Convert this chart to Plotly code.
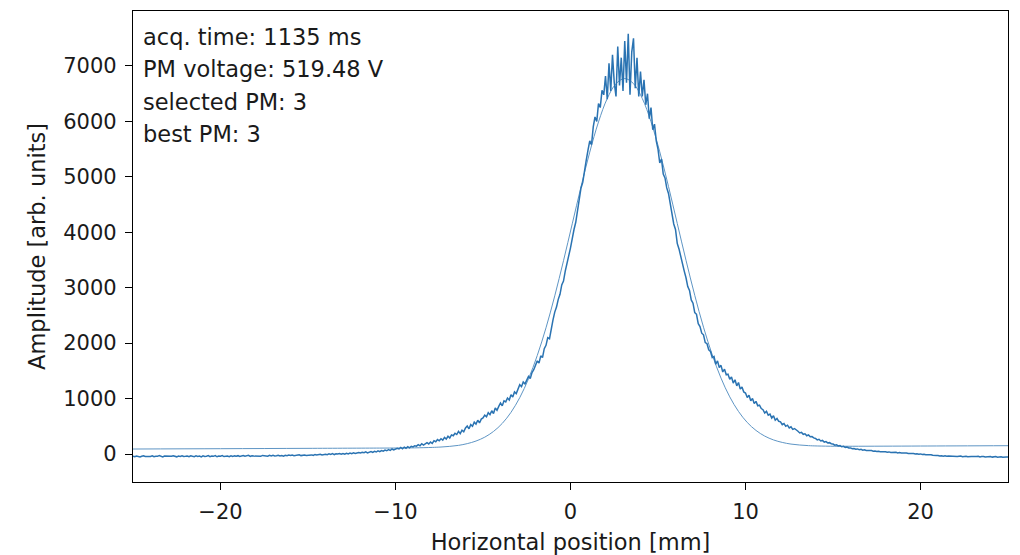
import numpy as np
import plotly.graph_objects as go

# profile samples, 0.1 mm spacing from -25 to 25 mm (one row = 1 mm)
x_start = -25.0
x_step = 0.1
amplitude = [
    -38, -49, -35, -44, -52, -40, -31, -45, -47, -36,
    -44, -33, -50, -39, -42, -29, -46, -53, -37, -40,
    -35, -48, -41, -30, -45, -51, -38, -43, -32, -46,
    -42, -36, -49, -31, -40, -47, -34, -44, -38, -52,
    -33, -45, -39, -28, -47, -36, -42, -30, -50, -37,
    -41, -29, -46, -35, -38, -48, -31, -43, -34, -40,
    -30, -44, -36, -27, -41, -38, -25, -45, -33, -37,
    -38, -28, -36, -42, -26, -34, -31, -40, -24, -35,
    -25, -36, -31, -22, -34, -27, -38, -24, -30, -20,
    -28, -18, -30, -21, -26, -14, -29, -23, -17, -27,
    -20, -11, -16, -24, -8, -19, -12, -6, -17, -9,
    -3, -12, 2, -7, 6, -10, 4, -1, 9, -4,
    10, -2, 14, 3, 18, 6, 22, 9, 15, 26,
    18, 30, 24, 38, 20, 35, 44, 29, 48, 36,
    56, 42, 61, 50, 70, 58, 78, 64, 90, 72,
    80, 102, 91, 118, 95, 125, 104, 132, 110, 140,
    128, 150, 142, 170, 148, 185, 160, 178, 205, 182,
    215, 190, 240, 222, 260, 238, 275, 250, 300, 268,
    320, 290, 345, 330, 375, 352, 410, 368, 430, 400,
    470, 505, 455, 530, 500, 575, 540, 610, 560, 630,
    650, 700, 672, 745, 710, 780, 730, 830, 790, 860,
    920, 870, 960, 940, 1010, 975, 1070, 1030, 1120, 1090,
    1180, 1250, 1215, 1300, 1265, 1350, 1400, 1360, 1470, 1520,
    1590, 1680, 1640, 1770, 1740, 1900, 1960, 2100, 2080, 2280,
    2420, 2560, 2650, 2790, 2880, 3050, 3120, 3300, 3420, 3580,
    3720, 3900, 4050, 4180, 4420, 4560, 4800, 4900, 5150, 5300,
    5480, 5650, 5580, 5900, 6080, 6000, 6320, 6250, 6560, 6480,
    6820, 6400, 7050, 6550, 7200, 6700, 6450, 7350, 6650, 7150,
    6550, 7450, 6700, 7580, 6480, 7250, 7500, 6600, 7150, 6450,
    6900, 6450, 6750, 6300, 6500, 6050, 6250, 5850, 5950, 5650,
    5500, 5250, 5320, 5050, 4980, 4800, 4700, 4500, 4380, 4150,
    4050, 3800, 3700, 3550, 3420, 3300, 3180, 3020, 2950, 2780,
    2720, 2550, 2520, 2350, 2300, 2180, 2150, 2010, 1990, 1880,
    1850, 1740, 1760, 1620, 1680, 1560, 1600, 1480, 1530, 1430,
    1440, 1350, 1390, 1280, 1340, 1230, 1290, 1170, 1210, 1120,
    1100, 1020, 1060, 960, 1000, 910, 950, 870, 880, 820,
    800, 740, 770, 700, 720, 650, 690, 610, 640, 590,
    580, 530, 550, 500, 520, 470, 490, 445, 460, 425,
    410, 380, 390, 355, 365, 330, 345, 310, 315, 290,
    280, 255, 265, 235, 245, 215, 225, 200, 205, 185,
    180, 160, 168, 145, 152, 130, 138, 120, 125, 108,
    110, 95, 100, 86, 92, 78, 84, 70, 76, 65,
    68, 58, 62, 50, 55, 46, 50, 40, 45, 38,
    42, 34, 38, 28, 32, 25, 30, 20, 26, 18,
    22, 14, 18, 8, 12, 4, 9, 0, 6, -3,
    2, -8, -4, -14, -10, -18, -15, -24, -20, -28,
    -27, -36, -30, -40, -33, -42, -35, -38, -44, -37,
    -38, -46, -40, -36, -48, -42, -39, -50, -41, -45,
    -43, -51, -46, -40, -53, -47, -44, -55, -48, -50,
    -47, -56, -51, -45, -58, -52, -49, -60, -53, -54,
    -55,
]
position = np.round(x_start + x_step * np.arange(len(amplitude)), 1)

# fitted gaussian
fit_x = [-25, -20, -15, -10.9, -9.9, -8.9, -7.9, -7.4, -6.9, -6.4, -5.9, -5.4,
         -4.9, -4.4, -3.9, -3.4, -2.9, -2.4, -1.9, -1.4, -0.9, -0.4, 0.1, 0.6,
         1.1, 1.6, 2.1, 2.6, 3.1, 3.6, 4.1, 4.6, 5.1, 5.6, 6.1, 6.6, 7.1, 7.6,
         8.1, 8.6, 9.1, 9.6, 10.1, 10.6, 11.1, 11.6, 12.1, 12.6, 13.1, 13.6,
         14.1, 15.1, 16.1, 20, 25]
fit_y = [90, 96, 102, 107, 108, 111, 119, 126, 138, 156, 187, 234,
         304, 407, 552, 752, 1017, 1356, 1777, 2277, 2853, 3487, 4153, 4820,
         5446, 5991, 6413, 6681, 6774, 6682, 6415, 5995, 5451, 4826, 4160, 3495, 2863, 2288,
         1789, 1369, 1031, 768, 569, 425, 323, 254, 209, 179, 162, 151,
         145, 140, 140, 144, 150]

info_lines = ["acq. time: 1135 ms", "PM voltage: 519.48 V", "selected PM: 3", "best PM: 3"]

blue = '#2a73b2'
tick_font = dict(family='DejaVu Sans', size=21, color='#1a1a1a')
font = dict(family='DejaVu Sans', size=22.5, color='#1a1a1a')

fig = go.Figure()
fig.add_trace(go.Scatter(x=position, y=amplitude, mode='lines',
                         line=dict(color=blue, width=1.5), showlegend=False))
fig.add_trace(go.Scatter(x=fit_x, y=fit_y, mode='lines', line_shape='spline',
                         line=dict(color=blue, width=1), opacity=0.75, showlegend=False))

for i, txt in enumerate(info_lines):
    fig.add_annotation(text=txt, xref='paper', yref='paper', x=0.009, y=0.945 - i * 0.0688,
                       xanchor='left', yanchor='middle', showarrow=False, font=font)

axis_style = dict(showline=True, linecolor='black', linewidth=1.3, mirror=True,
                  ticks='outside', ticklen=7, tickcolor='black', tickwidth=1.3,
                  ticklabelstandoff=4, automargin=False,
                  showgrid=False, zeroline=False, tickfont=tick_font, title_font=font)

fig.update_xaxes(range=[-25, 25], tickvals=[-20, -10, 0, 10, 20],
                 title_text='Horizontal position [mm]', title_standoff=10, **axis_style)
fig.update_yaxes(range=[-505, 7992], tickvals=list(range(0, 8000, 1000)),
                 title_text='Amplitude [arb. units]', title_standoff=11, **axis_style)

fig.update_layout(width=1020, height=555, plot_bgcolor='white', paper_bgcolor='white',
                  margin=dict(l=133, r=12, t=11, b=73), font=font)

# drop the default page margin so the figure sits at the window's corner
fig.write_html("out.html", config={'displayModeBar': False},
               post_script="document.body.style.margin='0px';")
